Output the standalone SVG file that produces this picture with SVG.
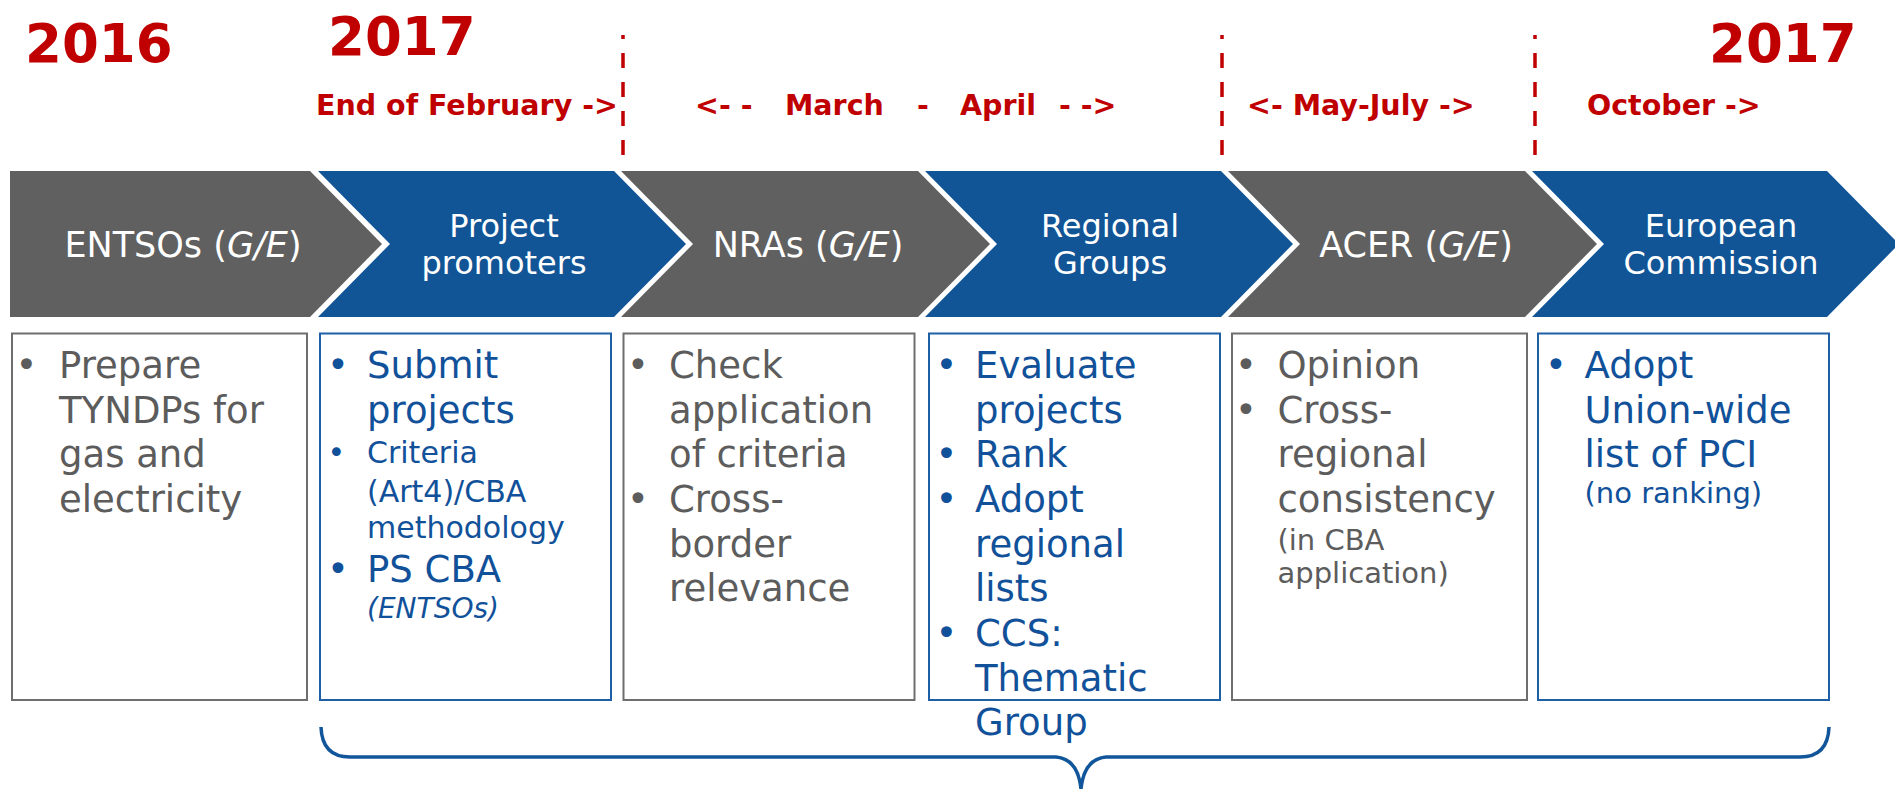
<svg xmlns="http://www.w3.org/2000/svg" width="1895" height="789" viewBox="0 0 1895 789">
<style>
.yr{font-family:"DejaVu Sans",Verdana,sans-serif;font-weight:bold;font-size:53px;fill:#c00000}
.per{font-family:"DejaVu Sans",Verdana,sans-serif;font-weight:bold;font-size:28.5px;fill:#c00000}
.div{stroke:#c00000;stroke-width:3.5;fill:none;stroke-dasharray:4 14 15 14 15 14 15 14 15 14}
.chg{fill:#606060}
.chb{fill:#115596}
.cht{font-family:"DejaVu Sans",Verdana,sans-serif;font-size:35px;fill:#ffffff;text-anchor:middle}
.cht2{font-family:"DejaVu Sans",Verdana,sans-serif;font-size:32px;fill:#ffffff;text-anchor:middle}
.bxg{fill:#ffffff;stroke:#6e6e6e;stroke-width:2}
.bxb{fill:#ffffff;stroke:#1f5fa5;stroke-width:2}
.tg{font-family:"DejaVu Sans",Verdana,sans-serif;font-size:37px;fill:#5c5c5c}
.tb{font-family:"DejaVu Sans",Verdana,sans-serif;font-size:37px;fill:#11519a}
.sm{font-size:30px}
.xs{font-size:29px}
.it{font-style:italic}
.brace{fill:none;stroke:#11559a;stroke-width:3.5}
</style>

<g id="years">
<text class="yr" x="25" y="62">2016</text>
<text class="yr" x="328" y="55">2017</text>
<text class="yr" x="1709" y="62">2017</text>
</g>

<g id="periods">
<text class="per" x="316" y="115">End of February -&gt;</text>
<text class="per" y="115"><tspan x="695">&lt;- -</tspan><tspan x="785">March</tspan><tspan x="917">-</tspan><tspan x="960">April</tspan><tspan x="1059">- -&gt;</tspan></text>
<text class="per" x="1247" y="115">&lt;- May-July -&gt;</text>
<text class="per" x="1587" y="115">October -&gt;</text>
</g>

<g id="dividers">
<line class="div" x1="623" y1="35" x2="623" y2="156"/>
<line class="div" x1="1222" y1="35" x2="1222" y2="156"/>
<line class="div" x1="1535" y1="35" x2="1535" y2="156"/>
</g>

<g id="node-entsos">
<polygon class="chg" points="10,171 310,171 382,244 310,317 10,317"/>
<text class="cht" x="183" y="257">ENTSOs (<tspan class="it">G/E</tspan>)</text>
<rect class="bxg" x="12" y="333.5" width="295" height="366.5"/>
<text class="tg" x="15.5" y="378">•</text>
<text class="tg" x="59" y="378">Prepare</text>
<text class="tg" x="59" y="422.5">TYNDPs for</text>
<text class="tg" x="59" y="467">gas and</text>
<text class="tg" x="59" y="511.5">electricity</text>
</g>

<g id="node-promoters">
<polygon class="chb" points="318,171 614,171 686,244 614,317 318,317 390,244"/>
<text class="cht2" x="504" y="236.5">Project</text>
<text class="cht2" x="504" y="274">promoters</text>
<rect class="bxb" x="320" y="333.5" width="291" height="366.5"/>
<text class="tb" x="327" y="378">•</text>
<text class="tb" x="367" y="378">Submit</text>
<text class="tb" x="367" y="422.5">projects</text>
<text class="tb sm" x="327.5" y="463">•</text>
<text class="tb sm" x="367" y="463">Criteria</text>
<text class="tb sm" x="367" y="501.5">(Art4)/CBA</text>
<text class="tb sm" x="367" y="538">methodology</text>
<text class="tb" x="327" y="582">•</text>
<text class="tb" x="367" y="582">PS CBA</text>
<text class="tb it" x="367" y="618" style="font-size:28px">(ENTSOs)</text>
</g>

<g id="node-nras">
<polygon class="chg" points="621,171 918,171 990,244 918,317 621,317 693,244"/>
<text class="cht" x="808" y="257">NRAs (<tspan class="it">G/E</tspan>)</text>
<rect class="bxg" x="623.5" y="333.5" width="291" height="366.5"/>
<text class="tg" x="627" y="378">•</text>
<text class="tg" x="669" y="378">Check</text>
<text class="tg" x="669" y="422.5">application</text>
<text class="tg" x="669" y="467">of criteria</text>
<text class="tg" x="627" y="511.5">•</text>
<text class="tg" x="669" y="511.5">Cross-</text>
<text class="tg" x="669" y="556.5">border</text>
<text class="tg" x="669" y="601">relevance</text>
</g>

<g id="node-regional">
<polygon class="chb" points="925,171 1221,171 1293,244 1221,317 925,317 997,244"/>
<text class="cht2" x="1110" y="236.5">Regional</text>
<text class="cht2" x="1110" y="274">Groups</text>
<rect class="bxb" x="929" y="333.5" width="291" height="366.5"/>
<text class="tb" x="935.5" y="378">•</text>
<text class="tb" x="975" y="378">Evaluate</text>
<text class="tb" x="975" y="422.5">projects</text>
<text class="tb" x="935.5" y="467">•</text>
<text class="tb" x="975" y="467">Rank</text>
<text class="tb" x="935.5" y="511.5">•</text>
<text class="tb" x="975" y="511.5">Adopt</text>
<text class="tb" x="975" y="556.5">regional</text>
<text class="tb" x="975" y="601">lists</text>
<text class="tb" x="935.5" y="646">•</text>
<text class="tb" x="975" y="646">CCS:</text>
<text class="tb" x="975" y="690.5">Thematic</text>
<text class="tb" x="975" y="735">Group</text>
</g>

<g id="node-acer">
<polygon class="chg" points="1228,171 1525,171 1597,244 1525,317 1228,317 1300,244"/>
<text class="cht" x="1416" y="257">ACER (<tspan class="it">G/E</tspan>)</text>
<rect class="bxg" x="1232" y="333.5" width="295" height="366.5"/>
<text class="tg" x="1235" y="378">•</text>
<text class="tg" x="1277.5" y="378">Opinion</text>
<text class="tg" x="1235" y="422.5">•</text>
<text class="tg" x="1277.5" y="422.5">Cross-</text>
<text class="tg" x="1277.5" y="467">regional</text>
<text class="tg" x="1277.5" y="511.5">consistency</text>
<text class="tg xs" x="1277.5" y="550">(in CBA</text>
<text class="tg xs" x="1277.5" y="583">application)</text>
</g>

<g id="node-commission">
<polygon class="chb" points="1532,171 1827,171 1899,244 1827,317 1532,317 1604,244"/>
<text class="cht2" x="1721" y="236.5">European</text>
<text class="cht2" x="1721" y="274">Commission</text>
<rect class="bxb" x="1538" y="333.5" width="291" height="366.5"/>
<text class="tb" x="1545" y="378">•</text>
<text class="tb" x="1584.5" y="378">Adopt</text>
<text class="tb" x="1584.5" y="422.5">Union-wide</text>
<text class="tb" x="1584.5" y="467">list of PCI</text>
<text class="tb xs" x="1584.5" y="503">(no ranking)</text>
</g>

<g id="connectors">
<path class="brace" d="M321,727 Q322,757 350,757 L1056,757 Q1078,759 1081,789 Q1084,759 1106,757 L1800,757 Q1828,757 1829,727"/>
</g>
</svg>
